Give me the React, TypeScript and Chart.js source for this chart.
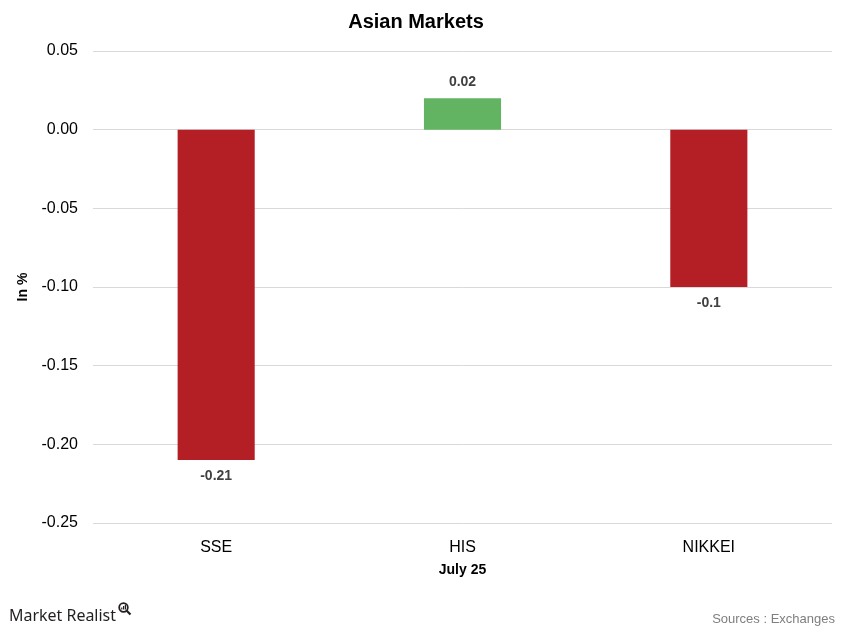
import React, { useEffect, useRef } from "react";
import { Chart, registerables } from "chart.js";

Chart.register(...registerables);

const categories = ["SSE", "HIS", "NIKKEI"];
const values = [-0.21, 0.02, -0.1];
const valueLabels = ["-0.21", "0.02", "-0.1"];
const barColors = ["#B41F25", "#62B462", "#B41F25"];
const titleText = "Asian Markets";
const yTitle = "In %";
const xTitle = "July 25";
const sourceText = "Sources : Exchanges";
const brandText = "Market Realist";

const FONT = "'Liberation Sans', Arial, Helvetica, sans-serif";

const labelPlugin = {
  id: "valueLabels",
  afterDatasetsDraw(chart: any) {
    const ctx = chart.ctx;
    const meta = chart.getDatasetMeta(0);
    ctx.save();
    ctx.font = `bold 14px ${FONT}`;
    ctx.fillStyle = "#404040";
    ctx.textAlign = "center";
    ctx.textBaseline = "middle";
    meta.data.forEach((el: any, i: number) => {
      const v = values[i];
      const y = v >= 0 ? Math.min(el.y, el.base) - 16 : Math.max(el.y, el.base) + 16;
      ctx.fillText(valueLabels[i], el.x, y);
    });
    ctx.restore();
  },
};

const footerPlugin = {
  id: "footer",
  afterDraw(chart: any) {
    const ctx = chart.ctx;
    const H = chart.height;
    const W = chart.width;
    ctx.save();
    // brand
    ctx.font = `17px 'Noto Sans', 'Open Sans', sans-serif`;
    ctx.fillStyle = "#231F20";
    ctx.textAlign = "left";
    ctx.textBaseline = "alphabetic";
    ctx.fillText(brandText, 9, 621, 107);
    // magnifier icon
    ctx.strokeStyle = "#231F20";
    ctx.lineWidth = 1.8;
    ctx.beginPath();
    ctx.arc(123.5, 607.5, 4.3, 0, Math.PI * 2);
    ctx.stroke();
    ctx.lineWidth = 2.2;
    ctx.beginPath();
    ctx.moveTo(126.7, 610.7);
    ctx.lineTo(130.5, 614.5);
    ctx.stroke();
    ctx.fillStyle = "#231F20";
    ctx.fillRect(121.2, 607.5, 1.2, 2);
    ctx.fillRect(123, 606, 1.2, 3.5);
    ctx.fillRect(124.8, 604.5, 1.2, 5);
    // sources
    ctx.font = `13px ${FONT}`;
    ctx.fillStyle = "#7F7F7F";
    ctx.textAlign = "right";
    ctx.textBaseline = "middle";
    ctx.fillText(sourceText, W - 6, H - 14);
    ctx.restore();
  },
};

export default function App() {
  const canvasRef = useRef<HTMLCanvasElement | null>(null);

  useEffect(() => {
    document.body.style.margin = "0";
    const canvas = canvasRef.current;
    if (!canvas) return;
    const chart = new Chart(canvas, {
      type: "bar",
      data: {
        labels: categories,
        datasets: [
          {
            data: values,
            backgroundColor: barColors,
            borderWidth: 0,
            barPercentage: 0.313,
            categoryPercentage: 1,
          },
        ],
      },
      options: {
        animation: false,
        responsive: false,
        maintainAspectRatio: false,
        layout: { padding: { left: 0, right: 9, top: 0, bottom: 54 } },
        plugins: {
          legend: { display: false },
          tooltip: { enabled: false },
          title: {
            display: true,
            text: titleText,
            color: "#000000",
            font: { family: FONT, size: 20, weight: "bold" },
            padding: { top: 10, bottom: 17 },
          },
        },
        scales: {
          x: {
            grid: { display: false, drawTicks: false },
            border: { display: false },
            ticks: {
              color: "#000000",
              font: { family: FONT, size: 16 },
              padding: 15,
            },
            title: {
              display: true,
              text: xTitle,
              color: "#000000",
              font: { family: FONT, size: 14, weight: "bold" },
              padding: { top: 0, bottom: 0 },
            },
            afterFit: (scale: any) => {
              scale.height = 56;
            },
          },
          y: {
            min: -0.25,
            max: 0.05,
            grid: { color: "#D9D9D9", drawTicks: false, lineWidth: 1 },
            border: { display: false },
            ticks: {
              stepSize: 0.05,
              color: "#000000",
              font: { family: FONT, size: 16 },
              padding: 15,
              callback: (v: any) => {
                const n = Number(v);
                return (Math.abs(n) < 1e-9 ? 0 : n).toFixed(2);
              },
            },
            title: {
              display: true,
              text: yTitle,
              color: "#000000",
              font: { family: FONT, size: 14, weight: "bold" },
              padding: { top: 15, bottom: 0 },
            },
            afterFit: (scale: any) => {
              scale.width = 93;
            },
          },
        },
      },
      plugins: [labelPlugin, footerPlugin],
    });
    return () => chart.destroy();
  }, []);

  return (
    <div style={{ width: 841, height: 633 }}>
      <canvas ref={canvasRef} width={841} height={633} style={{ display: "block" }} />
    </div>
  );
}
